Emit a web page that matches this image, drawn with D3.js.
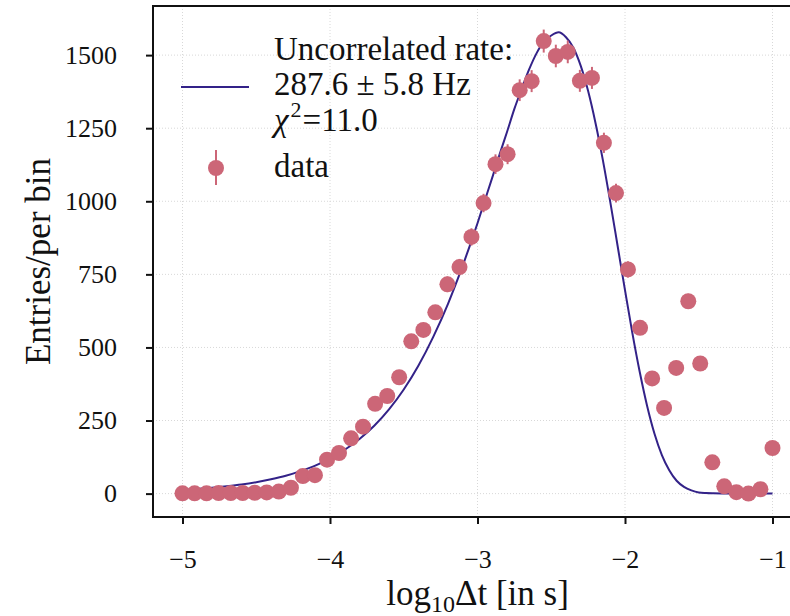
<!doctype html>
<html lang="en">
  <head>
    <title>d3.js - Uncorrelated rate fit</title>
    <meta charset="utf-8">
    <script src="https://d3js.org/d3.v7.min.js"></script>
    <style>
      body { margin: 0; background: #fff; }
    </style>
  </head>
  <body>
    <div class='visholder'></div>
    <script>
      // bin centres (log10 of dt in s)
      const binX = [-5.000, -4.918, -4.837, -4.755, -4.673, -4.592, -4.510, -4.429, -4.347, -4.265,
                    -4.184, -4.102, -4.020, -3.939, -3.857, -3.776, -3.694, -3.612, -3.531, -3.449,
                    -3.367, -3.286, -3.204, -3.122, -3.041, -2.959, -2.878, -2.796, -2.714, -2.633,
                    -2.551, -2.469, -2.388, -2.306, -2.224, -2.143, -2.061, -1.980, -1.898, -1.816,
                    -1.735, -1.653, -1.571, -1.490, -1.408, -1.327, -1.245, -1.163, -1.082, -1.000]
      // entries per bin
      const counts = [1, 1, 1, 2, 2, 2, 3, 4, 7, 20,
                      60, 63, 116, 139, 189, 229, 307, 334, 398, 521,
                      560, 620, 716, 775, 878, 994, 1127, 1161, 1380, 1411,
                      1548, 1497, 1511, 1412, 1422, 1200, 1028, 767, 567, 394,
                      293, 430, 658, 445, 107, 25, 5, 0, 15, 156]

      // fitted curve, sampled along the drawn line
      const fitX = [-5.0, -4.9, -4.8, -4.7, -4.6, -4.5, -4.4, -4.3, -4.2, -4.1,
                    -4.0, -3.9, -3.8, -3.7, -3.6, -3.5, -3.4, -3.3, -3.2, -3.15,
                    -3.1, -3.05, -3.0, -2.95, -2.9, -2.85, -2.8, -2.75, -2.7, -2.65,
                    -2.6, -2.55, -2.5, -2.45, -2.4, -2.35, -2.3, -2.25, -2.2, -2.15,
                    -2.1, -2.05, -2.0, -1.95, -1.9, -1.85, -1.8, -1.75, -1.7, -1.65,
                    -1.6, -1.55, -1.5, -1.45, -1.4, -1.3, -1.2, -1.1, -1.0]
      const fitY = [12, 16, 20, 25, 31, 39, 49, 61, 77, 96,
                    120, 150, 187, 232, 288, 356, 438, 536, 649, 713,
                    780, 851, 925, 1003, 1081, 1161, 1237, 1316, 1385, 1451,
                    1506, 1546, 1567, 1578, 1561, 1525, 1463, 1377, 1268, 1141,
                    998, 847, 696, 549, 416, 300, 205, 132, 80, 44,
                    23, 11, 4, 2, 1, 0, 0, 0, 0]

      const xTicks = [-5, -4, -3, -2, -1]
      const yTicks = [0, 250, 500, 750, 1000, 1250, 1500]

      const w = 790;
      const h = 616;
      const padLeft = 153, padTop = 6, axisBottomY = 517, axisRightX = 802;

      const rose = '#cc6677';
      const indigo = '#332288';
      const serif = '"Liberation Serif", "Times New Roman", serif';

      const svg = d3.select('.visholder')
          .append('svg')
          .attr('width', w)
          .attr('height', h)
          .style('font-family', serif)

      const xScale = d3.scaleLinear()
        .domain([-5.2, -0.8])
        .range([padLeft, axisRightX])

      const yScale = d3.scaleLinear()
        .domain([-80, 1668])
        .range([axisBottomY, padTop])

      // dotted grid
      svg.append('g')
        .selectAll('line')
        .data(xTicks)
        .enter()
        .append('line')
        .attr('x1', d => xScale(d))
        .attr('x2', d => xScale(d))
        .attr('y1', padTop)
        .attr('y2', axisBottomY)
        .attr('stroke', '#d8d8d8')
        .attr('stroke-width', 1)
        .attr('stroke-dasharray', '1,2')
      svg.append('g')
        .selectAll('line')
        .data(yTicks)
        .enter()
        .append('line')
        .attr('x1', padLeft)
        .attr('x2', axisRightX)
        .attr('y1', d => yScale(d))
        .attr('y2', d => yScale(d))
        .attr('stroke', '#d8d8d8')
        .attr('stroke-width', 1)
        .attr('stroke-dasharray', '1,2')

      // fit line
      const line = d3.line()
        .x((d, i) => xScale(fitX[i]))
        .y(d => yScale(d))
        .curve(d3.curveMonotoneX)

      svg.append('path')
        .datum(fitY)
        .attr('d', line)
        .attr('fill', 'none')
        .attr('stroke', indigo)
        .attr('stroke-width', 2)

      // data points with sqrt(N) error bars
      const pts = svg.append('g')
        .selectAll('g')
        .data(counts)
        .enter()
        .append('g')

      pts.append('line')
        .attr('x1', (d, i) => xScale(binX[i]))
        .attr('x2', (d, i) => xScale(binX[i]))
        .attr('y1', d => yScale(d + Math.sqrt(d)))
        .attr('y2', d => yScale(d - Math.sqrt(d)))
        .attr('stroke', rose)
        .attr('stroke-width', 2)

      pts.append('circle')
        .attr('cx', (d, i) => xScale(binX[i]))
        .attr('cy', d => yScale(d))
        .attr('r', 8)
        .attr('fill', rose)

      // frame
      svg.append('rect')
        .attr('x', padLeft)
        .attr('y', padTop)
        .attr('width', axisRightX - padLeft)
        .attr('height', axisBottomY - padTop)
        .attr('fill', 'none')
        .attr('stroke', '#111')
        .attr('stroke-width', 2)

      // axes
      const xAxis = d3.axisBottom(xScale).tickValues(xTicks).tickFormat(d3.format('d'))
        .tickSize(7).tickPadding(26).tickSizeOuter(0)
      const yAxis = d3.axisLeft(yScale).tickValues(yTicks).tickFormat(d3.format('d'))
        .tickSize(7).tickPadding(29).tickSizeOuter(0)

      const gx = svg.append('g')
        .attr('transform', 'translate(0,' + axisBottomY + ')')
        .call(xAxis)
      const gy = svg.append('g')
        .attr('transform', 'translate(' + padLeft + ',0)')
        .call(yAxis)

      for (const g of [gx, gy]) {
        g.attr('font-family', null).attr('font-size', null)
        g.select('.domain').remove()
        g.selectAll('line').attr('stroke', '#111').attr('stroke-width', 2)
        g.selectAll('text')
          .style('font-family', serif)
          .style('font-size', '26px')
          .attr('fill', '#111')
      }

      // axis titles
      const xl = svg.append('text')
        .attr('x', (padLeft + axisRightX) / 2)
        .attr('y', 605)
        .attr('text-anchor', 'middle')
        .attr('fill', '#111')
        .style('font-family', serif)
        .style('font-size', '35px')
      xl.append('tspan').text('log')
      xl.append('tspan').text('10').style('font-size', '24px').attr('dy', 7)
      xl.append('tspan').text('Δt [in s]').attr('dy', -7)

      svg.append('text')
        .attr('transform', 'translate(50,' + (padTop + axisBottomY) / 2 + ') rotate(-90)')
        .attr('text-anchor', 'middle')
        .attr('fill', '#111')
        .style('font-family', serif)
        .style('font-size', '35px')
        .text('Entries/per bin')

      // legend
      const legend = svg.append('g')
        .style('font-family', serif)
        .attr('fill', '#111')
      legend.append('line')
        .attr('x1', 181).attr('x2', 249)
        .attr('y1', 87).attr('y2', 87)
        .attr('stroke', indigo)
        .attr('stroke-width', 2)

      const legendLines = ['Uncorrelated rate:', '287.6 ± 5.8 Hz']
      legend.selectAll('text.lbl')
        .data(legendLines)
        .enter()
        .append('text')
        .attr('class', 'lbl')
        .attr('x', 274)
        .attr('y', (d, i) => 60 + i * 35)
        .style('font-family', serif)
        .style('font-size', '33px')
        .text(d => d)

      const chi = legend.append('text')
        .attr('x', 274)
        .attr('y', 131)
        .style('font-family', serif)
        .style('font-size', '33px')
      chi.append('tspan').text('χ').style('font-style', 'italic')
      chi.append('tspan').text('2').style('font-size', '22px').attr('dx', 2).attr('dy', -14)
      chi.append('tspan').text('=11.0').attr('dx', 1).attr('dy', 14)

      legend.append('line')
        .attr('x1', 216).attr('x2', 216)
        .attr('y1', 150).attr('y2', 185)
        .attr('stroke', rose)
        .attr('stroke-width', 2)
      legend.append('circle')
        .attr('cx', 216).attr('cy', 168)
        .attr('r', 8)
        .attr('fill', rose)
      legend.append('text')
        .attr('x', 274)
        .attr('y', 177)
        .style('font-family', serif)
        .style('font-size', '33px')
        .text('data')
    </script>
  </body>
</html>
